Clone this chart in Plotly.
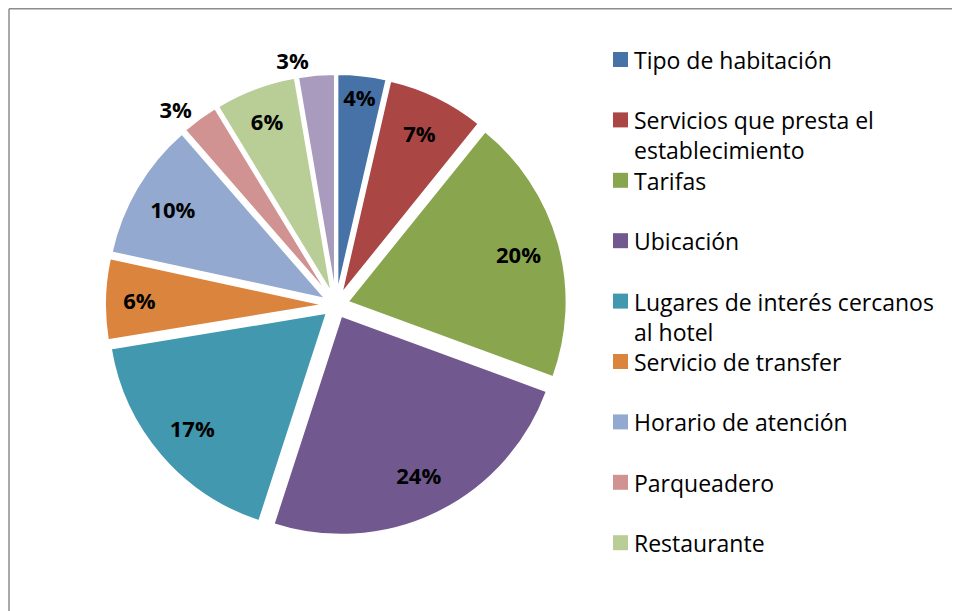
import plotly.graph_objects as go

labels = ["Tipo de habitación", "Servicios que presta el establecimiento", "Tarifas",
          "Ubicación", "Lugares de interés cercanos al hotel", "Servicio de transfer",
          "Horario de atención", "Parqueadero", "Restaurante", "Otros"]
legend_text = ["Tipo de habitación", "Servicios que presta el<br>establecimiento", "Tarifas",
               "Ubicación", "Lugares de interés cercanos<br>al hotel", "Servicio de transfer",
               "Horario de atención", "Parqueadero", "Restaurante"]
values = [3.6, 7.2, 19.8, 24.4, 17.4, 6.0, 10.2, 2.7, 6.0, 2.7]
colors = ["#4672A8", "#AA4644", "#89A54E", "#71588F", "#4198AF",
          "#DB843D", "#93A9CF", "#D19392", "#B9CD96", "#A99BBD"]
text_pos = ["inside"] * 7 + ["outside", "inside", "outside"]

# the page body has an 8px margin; the figure is sized to fill the rest of the window
OFF = 8
W, H = 952, 603
FONT = "Open Sans"

def px(x):
    return (x - OFF) / W

def py(y):
    return 1 - (y - OFF) / H

cx, cy, r, pull = 336, 305, 219, 0.055
half = r * (1 + pull)
domain = dict(x=[px(cx - half), px(cx + half)], y=[py(cy + half), py(cy - half)])

# coloured slices
slices = go.Pie(
    labels=labels, values=values, sort=False, direction="clockwise", rotation=0,
    marker=dict(colors=colors, line=dict(color="white", width=2)),
    pull=[pull] * len(values), textinfo="none", hoverinfo="label+percent",
    domain=domain, showlegend=False,
)
# same slices, transparent, as a ring so the percentage labels sit toward the rim
ring_labels = go.Pie(
    labels=labels, values=values, sort=False, direction="clockwise", rotation=0,
    hole=0.62,
    marker=dict(colors=["rgba(0,0,0,0)"] * len(values), line=dict(width=0)),
    pull=[pull] * len(values),
    texttemplate="%{percent:.0%}", textposition=text_pos,
    insidetextorientation="horizontal", hoverinfo="skip",
    textfont=dict(family=FONT, size=22, color="black", weight="bold"),
    domain=domain, showlegend=False,
)
fig = go.Figure([slices, ring_labels])

shapes = [
    dict(type="line", xref="paper", yref="paper", x0=px(9), x1=px(9), y0=py(8.7), y1=-0.05,
         line=dict(color="#8c8c8c", width=1.5)),
    dict(type="line", xref="paper", yref="paper", x0=px(9), x1=1.05, y0=py(8.7), y1=py(8.7),
         line=dict(color="#8c8c8c", width=1.5)),
]
annotations = []
first_line_y = 59.5
step = 60.4
for i, txt in enumerate(legend_text):
    yc = first_line_y + i * step
    shapes.append(dict(type="rect", xref="paper", yref="paper",
                       x0=px(613), x1=px(628), y0=py(yc + 7.5), y1=py(yc - 7.5),
                       fillcolor=colors[i], line=dict(width=0)))
    annotations.append(dict(xref="paper", yref="paper", x=px(632), y=py(yc - 17.5),
                            xanchor="left", yanchor="top", align="left", showarrow=False,
                            text=txt, font=dict(family=FONT, size=23, color="black")))

fig.update_layout(
    width=W, height=H, margin=dict(l=0, r=0, t=0, b=0),
    paper_bgcolor="white", plot_bgcolor="white",
    shapes=shapes, annotations=annotations,
)
fig.write_html("out.html")
